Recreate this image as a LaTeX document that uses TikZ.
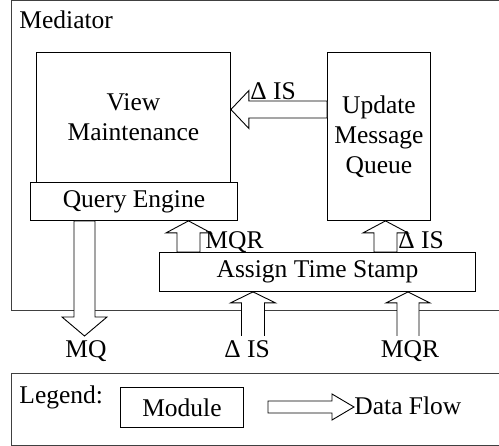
\documentclass[tikz,border=0pt]{standalone}
\usepackage{fontspec}
\setmainfont{Liberation Serif}
\usetikzlibrary{calc}
\newcommand\flowarrow[6]{%
  \coordinate (fa-h) at ($(#2)!#5!(#1)$);
  \def\fapts{($(#1)!#3!-90:(#2)$) -- ($(fa-h)!#3!-90:(#2)$) -- ($(fa-h)!#4!-90:(#2)$) -- (#2) -- ($(fa-h)!#4!90:(#2)$) -- ($(fa-h)!#3!90:(#2)$) -- ($(#1)!#3!90:(#2)$)}%
  \fill[white] \fapts -- cycle;
  \draw[flow] \fapts #6;}
\begin{document}
\begin{tikzpicture}[x=1pt,y=-1pt, line width=0.9pt,
  box/.style={draw, rectangle, inner sep=0pt, align=center, anchor=north west},
  frame/.style={draw=black!75, rectangle, inner sep=0pt, anchor=north west},
  lbl/.style={inner sep=0pt, anchor=base west},
  clbl/.style={inner sep=0pt, anchor=base},
  flow/.style={draw, line join=miter},
  font=\fontsize{25.5}{30}\selectfont]
\useasboundingbox (0,0) rectangle (499,446);
% frames
\node[frame, minimum width=509pt, minimum height=309.5pt] (mediator) at (11,0.5) {};
\node[frame, minimum width=509pt, minimum height=72.5pt] (legend) at (11,373) {};
\node[lbl] (medlbl) at (19,29) {Mediator};
\node[lbl] (leglbl) at (19,404) {Legend:};
% modules
\node[box, minimum width=194pt, minimum height=130pt] (vm) at (36,52) {View\\Maintenance};
\node[box, minimum width=207pt, minimum height=38pt] (qe) at (30,182) {Query Engine};
\node[box, minimum width=103pt, minimum height=168pt] (umq) at (327,52) {Update\\Message\\Queue};
\node[box, minimum width=316pt, minimum height=39pt] (ats) at (159,252) {Assign Time Stamp};
\node[box, minimum width=123pt, minimum height=40pt] (mod) at (120,387) {Module};
% arrow end points
\coordinate (a1s) at (umq.west |- 0,109.5);
\coordinate (a1e) at (vm.east |- 0,109.5);
\coordinate (a2s) at (ats.north -| 188.5,0);
\coordinate (a2e) at (qe.south -| 188.5,0);
\coordinate (a3s) at (ats.north -| 385.5,0);
\coordinate (a3e) at (umq.south -| 385.5,0);
\coordinate (a4s) at (qe.south -| 84.5,0);
\coordinate (a4e) at (84.5,336);
\coordinate (a5s) at (253,336);
\coordinate (a5e) at (ats.south -| 253,0);
\coordinate (a6s) at (408,336);
\coordinate (a6e) at (ats.south -| 408,0);
\coordinate (a7s) at (268,407);
\coordinate (a7e) at (354,407);
% data flows
\flowarrow{a1s}{a1e}{8.5pt}{19pt}{18pt}{-- cycle}
\flowarrow{a2s}{a2e}{11.5pt}{22.5pt}{12pt}{-- cycle}
\flowarrow{a3s}{a3e}{11.5pt}{22.5pt}{12pt}{-- cycle}
\flowarrow{a4s}{a4e}{10.5pt}{22.5pt}{19pt}{-- cycle}
\flowarrow{a5s}{a5e}{11.5pt}{22.5pt}{11pt}{}
\flowarrow{a6s}{a6e}{11pt}{22pt}{11pt}{}
\flowarrow{a7s}{a7e}{6pt}{13pt}{22pt}{-- cycle}
% labels
\node[lbl] (l1) at (250,100) {Δ IS};
\node[lbl] (l2) at (205,249) {MQR};
\node[lbl] (l3) at (398,249) {Δ IS};
\node[clbl] (l4) at (86,358) {MQ};
\node[clbl] (l5) at (247,358) {Δ IS};
\node[clbl] (l6) at (410,358) {MQR};
\node[lbl] (l7) at (354,415) {Data Flow};
\end{tikzpicture}
\end{document}
